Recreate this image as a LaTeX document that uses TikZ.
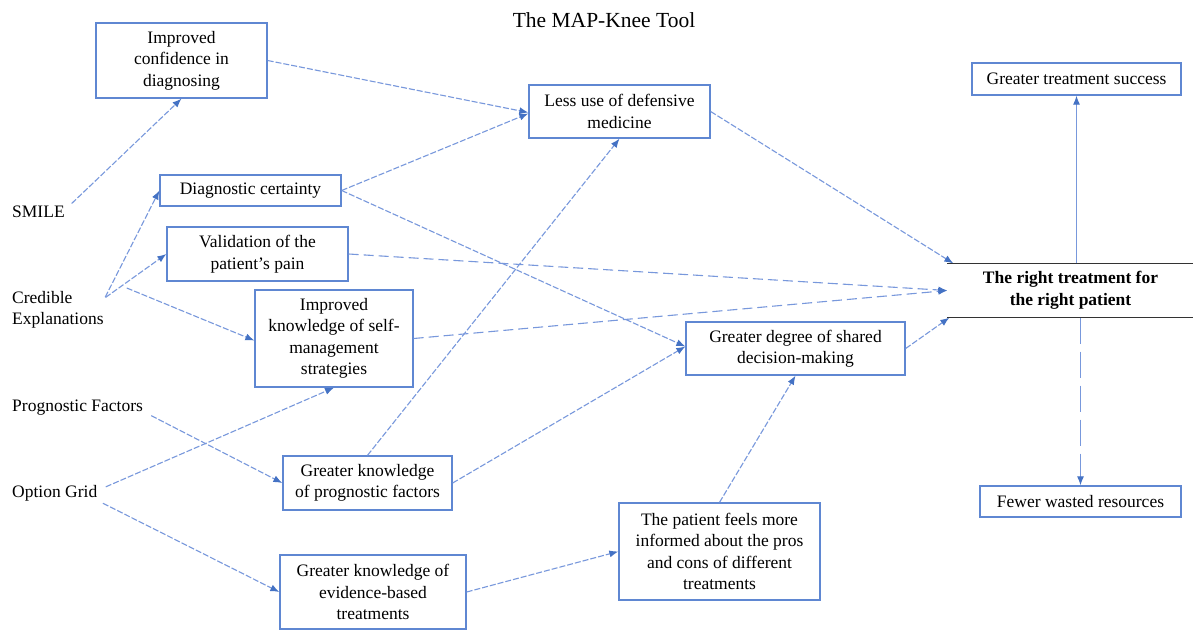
\documentclass[tikz,border=0pt]{standalone}
\usepackage{fontspec}
\setmainfont{Liberation Serif}
\usetikzlibrary{arrows.meta,calc}
\definecolor{boxc}{RGB}{95,135,210}
\definecolor{linec}{RGB}{120,152,220}
\definecolor{tipc}{RGB}{68,114,196}
\begin{document}
\begin{tikzpicture}[x=1pt,y=-1pt,
  box/.style={draw=boxc, line width=1.3pt, align=center, inner sep=0pt,
    font=\fontsize{17.5}{21.5}\selectfont},
  lbl/.style={align=left, anchor=west, inner sep=1pt,
    font=\fontsize{17.5}{21}\selectfont},
  conn/.style={draw=linec, line width=1.1pt, dash pattern=on 6pt off 2pt,
    -{Latex[length=9pt,width=7pt,color=tipc]}},
  longdash/.style={dash pattern=on 10pt off 5pt},
  xlongdash/.style={dash pattern=on 26pt off 8pt},
  solidline/.style={solid}]
\useasboundingbox (0,0) rectangle (1193,630);
\fill[white] (0,0) rectangle (1193,630);

\node[font=\fontsize{21.5}{24}\selectfont] (title) at (604,20) {The MAP-Knee Tool};

% boxes
\node[box, minimum width=171pt, minimum height=75pt] (conf) at (181.5,60.5) {Improved\\confidence in\\diagnosing};
\node[box, minimum width=181pt, minimum height=31pt] (diag) at (250.5,190.5) {Diagnostic certainty};
\node[box, minimum width=181pt, minimum height=54pt] (valid) at (257.5,254) {Validation of the\\patient's pain};
\node[box, minimum width=158pt, minimum height=97pt] (self) at (334,338.5) {Improved\\knowledge of self-\\management\\strategies};
\node[box, minimum width=181pt, minimum height=53pt] (less) at (619.5,111.5) {Less use of defensive\\medicine};
\node[box, minimum width=219pt, minimum height=53pt] (shared) at (795.5,348.5) {Greater degree of shared\\decision-making};
\node[box, minimum width=209pt, minimum height=32pt] (success) at (1076.5,79) {Greater treatment success};
\node[box, draw=none, minimum width=245pt, minimum height=53pt, font=\fontsize{17.5}{21.5}\selectfont\bfseries] (right) at (1070.5,290.5) {The right treatment for\\the right patient};
\draw[black!80, line width=1.5pt] (right.north west) -- (right.north east);
\draw[black!80, line width=1.5pt] (right.south west) -- (right.south east);
\node[box, minimum width=201pt, minimum height=31pt] (fewer) at (1080.5,501.5) {Fewer wasted resources};
\node[box, minimum width=169pt, minimum height=54pt] (progk) at (367.5,483) {Greater knowledge\\of prognostic factors};
\node[box, minimum width=186pt, minimum height=74pt] (evid) at (373,592) {Greater knowledge of\\evidence-based\\treatments};
\node[box, minimum width=201pt, minimum height=97pt] (inform) at (719.5,551.5) {The patient feels more\\informed about the pros\\and cons of different\\treatments};

% left labels
\node[lbl] (smile) at (11,212) {SMILE};
\node[lbl] (cred) at (11,310) {Credible\\Explanations};
\node[lbl] (prog) at (11,408) {Prognostic Factors};
\node[lbl] (option) at (11,493) {Option Grid};

% connectors
\draw[conn, shorten <=8pt] ([yshift=3pt]smile.east) -- (conf.south);
\draw[conn, shorten <=1pt] ([yshift=12pt]cred.east) -- (diag.west);
\draw[conn, shorten <=1pt] ([yshift=12pt]cred.east) -- (valid.west);
\draw[conn] ([xshift=22pt,yshift=22pt]cred.east) -- ([yshift=-2pt]self.west);
\draw[conn] (conf.east) -- ([yshift=-1pt]less.west);
\draw[conn] (diag.east) -- ([yshift=-2pt]less.west);
\draw[conn] (diag.east) -- ([yshift=2pt]shared.west);
\draw[conn, longdash] (valid.east) -- (right.west);
\draw[conn, longdash] (self.east) -- (right.west);
\draw[conn] (less.east) -- ([xshift=6pt]right.north west);
\draw[conn] (shared.east) -- ([xshift=2pt]right.south west);
\draw[conn] (progk.north) -- (less.south);
\draw[conn] (progk.east) -- ([yshift=2pt]shared.west);
\draw[conn, shorten <=8pt] ([yshift=-4pt]prog.east) -- (progk.west);
\draw[conn, shorten <=8pt] ([yshift=3pt]option.east) -- (self.south);
\draw[conn, shorten <=5pt] ([yshift=-8pt]option.east) -- (evid.west);
\draw[conn] (evid.east) -- (inform.west);
\draw[conn] (inform.north) -- (shared.south);
\draw[conn, solidline] (success.south |- right.north) -- (success.south);
\draw[conn, xlongdash] (fewer.north |- right.south) -- (fewer.north);
\end{tikzpicture}
\end{document}
